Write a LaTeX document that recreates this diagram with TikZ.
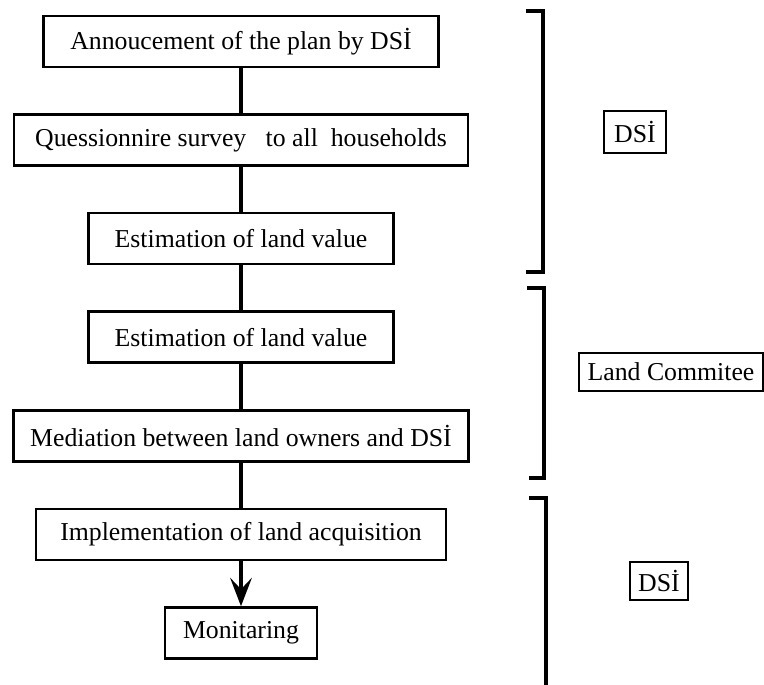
\documentclass[tikz,border=0pt]{standalone}
\usepackage{fontspec}
\setmainfont{Liberation Serif}
\usetikzlibrary{positioning,arrows.meta}

\tikzset{
  stage/.style={draw, line width=2.2pt, minimum height=1.53cm, inner sep=0pt,
    font=\fontsize{22}{24}\selectfont},
  party/.style={draw, line width=2.2pt, inner sep=0pt,
    font=\fontsize{22}{24}\selectfont},
  link/.style={line width=3pt},
  bracket/.style={line width=3pt}
}

\begin{document}
\begin{tikzpicture}[x=0.03cm, y=-0.03cm, node distance=1.35cm]
  \useasboundingbox (0,0) rectangle (764,685);

  % steps of the procedure
  \node[stage, minimum width=11.85cm] (s1) at (241,41.5) {Annoucement of the plan by DSİ};
  \node[stage, minimum width=13.62cm, below=of s1] (s2) {Quessionnire survey \ \ to all \ households};
  \node[stage, minimum width=9.15cm, below=of s2] (s3) {Estimation of land value};
  \node[stage, minimum width=9.15cm, below=of s3] (s4) {Estimation of land value};
  \node[stage, minimum width=13.65cm, below=of s4] (s5) {Mediation between land owners and DSİ};
  \node[stage, minimum width=12.3cm, below=of s5] (s6) {Implementation of land acquisition};
  \node[stage, minimum width=4.56cm, below=of s6] (s7) {Monitaring};

  \draw[link] (s1) -- (s2);
  \draw[link] (s2) -- (s3);
  \draw[link] (s3) -- (s4);
  \draw[link] (s4) -- (s5);
  \draw[link] (s5) -- (s6);
  \draw[link, -{Stealth[length=0.85cm, width=0.65cm, inset=0.34cm]}] (s6) -- (s7);

  % who is in charge
  \draw[bracket] (526,11) -| (543,272) -- (526,272);
  \draw[bracket] (527,288) -| (544,478) -- (529,478);
  \draw[bracket] (529,498) -| (546,685);

  \node[party, minimum width=1.86cm, minimum height=1.26cm] (p1) at (635,132) {DSİ};
  \node[party, minimum width=5.52cm, minimum height=1.14cm] (p2) at (671,372) {Land Commitee};
  \node[party, minimum width=1.74cm, minimum height=1.14cm] (p3) at (659,581) {DSİ};
\end{tikzpicture}
\end{document}
